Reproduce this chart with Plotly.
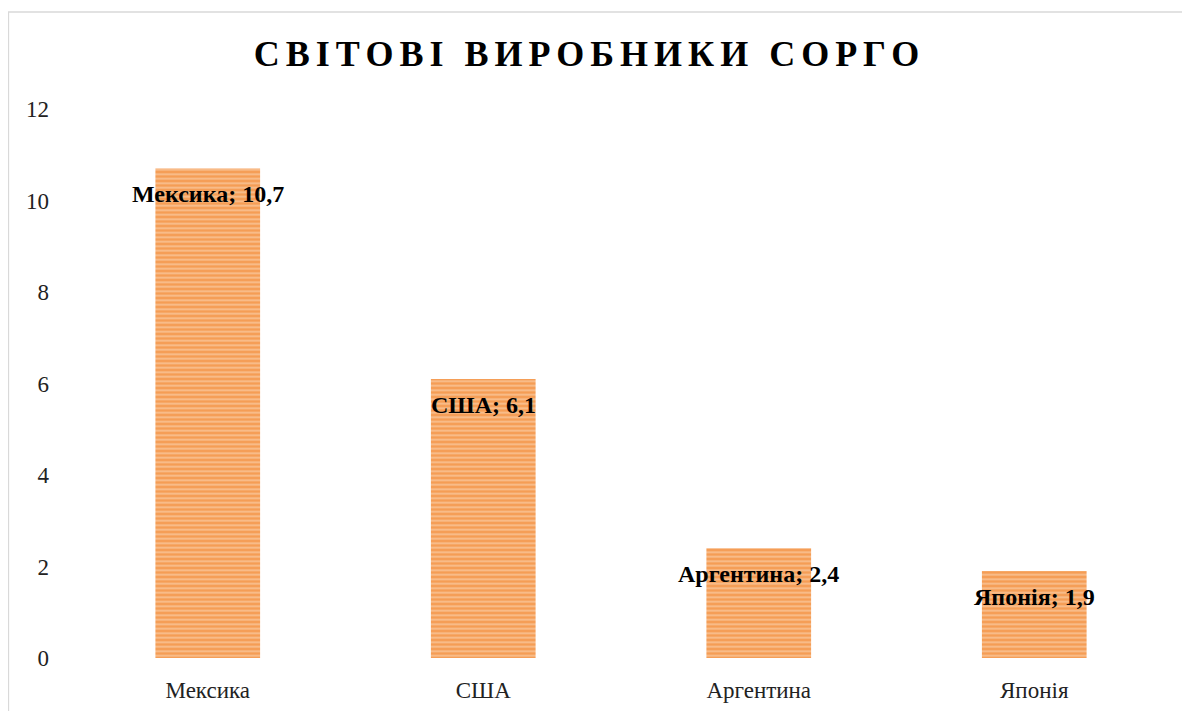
import plotly.graph_objects as go

categories = ["Мексика", "США", "Аргентина", "Японія"]
values = [10.7, 6.1, 2.4, 1.9]
y_ticks = [0, 2, 4, 6, 8, 10, 12]
title_text = "СВІТОВІ ВИРОБНИКИ СОРГО"

labels = [f"{c}; {str(v).replace('.', ',')}" for c, v in zip(categories, values)]

fig = go.Figure()
fig.add_trace(go.Bar(
    x=categories,
    y=values,
    marker=dict(
        color="#F59D55",
        line=dict(width=0),
        pattern=dict(shape="-", fgcolor="#FDE2CB", bgcolor="#F59D55",
                     size=4.5, solidity=0.4, fillmode="overlay"),
    ),
    hoverinfo="x+y",
))

for c, v, t in zip(categories, values, labels):
    fig.add_annotation(
        x=c, y=v, xref="x", yref="y", text=f"<b>{t}</b>",
        showarrow=False, yanchor="top", yshift=-11,
        font=dict(family="Liberation Serif", size=24, color="#000000"),
    )

# page body adds an 8px offset, so target coordinates are shifted by -8
W, H = 1182, 703
ml, mr, mt, mb = 62, 18, 101, 53
pw, ph = W - ml - mr, H - mt - mb

def px(x):
    return (x - ml) / pw

def py(y):
    return (H - mb - y) / ph

fig.add_shape(type="rect", xref="paper", yref="paper",
              x0=px(0.5), x1=px(1200), y0=py(720), y1=py(4),
              line=dict(color="#D9D9D9", width=1.3), fillcolor="rgba(0,0,0,0)",
              layer="below")

fig.update_layout(
    width=W, height=H,
    margin=dict(l=ml, r=mr, t=mt, b=mb),
    paper_bgcolor="white", plot_bgcolor="white",
    bargap=0.62,
    showlegend=False,
    title=dict(
        text=f'<span style="letter-spacing:6px"><b>{title_text}</b></span>',
        x=(587.5 - 8 + 2) / W, xref="container", xanchor="center",
        y=1 - 45 / H, yref="container", yanchor="middle",
        font=dict(family="Liberation Serif", size=36, color="#000000"),
    ),
    font=dict(family="Liberation Serif", size=23, color="#222222"),
)
fig.update_xaxes(showline=False, showgrid=False, ticks="", ticklabelstandoff=16,
                 automargin=False,
                 tickfont=dict(family="Liberation Serif", size=23, color="#222222"))
fig.update_yaxes(range=[0, 12], tickvals=y_ticks, showline=False, showgrid=False,
                 zeroline=False, ticks="", ticklabelstandoff=20, automargin=False,
                 tickfont=dict(family="Liberation Serif", size=23, color="#222222"))

fig.write_html("out.html")
